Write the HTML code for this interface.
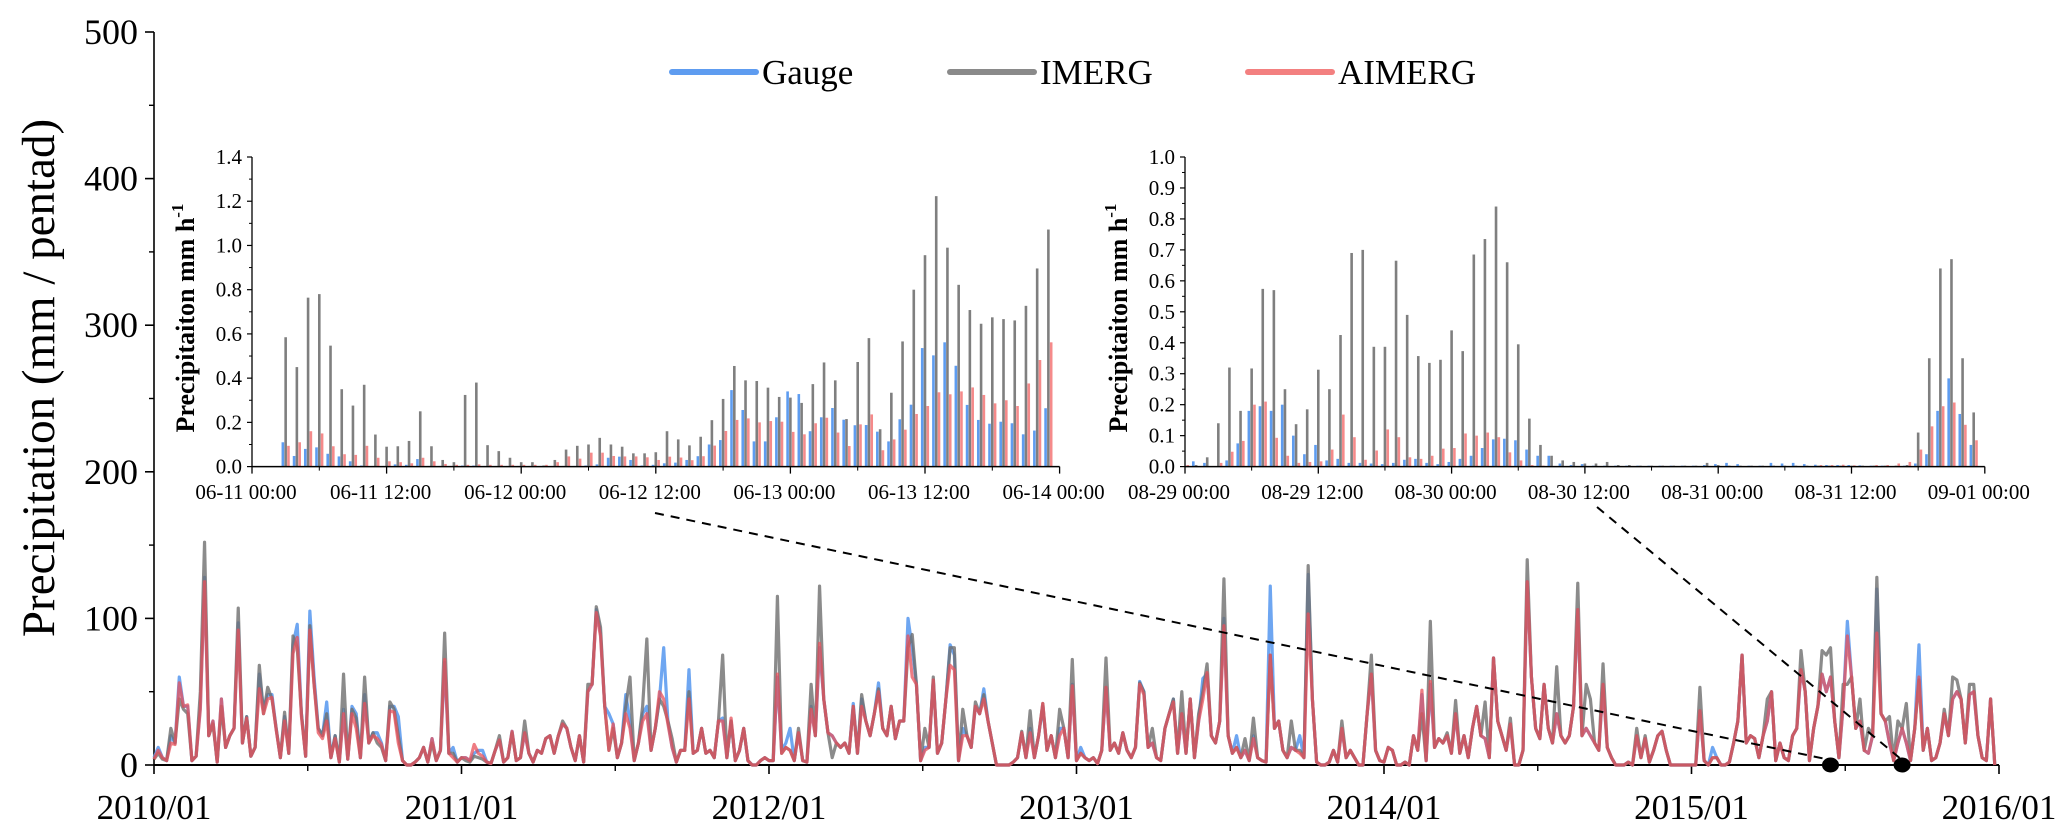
<!DOCTYPE html>
<html><head><meta charset="utf-8"><style>
html,body{margin:0;padding:0;background:#fff;}
svg{display:block;font-family:"Liberation Serif",serif;}
</style></head><body>
<svg id="chart" width="2067" height="839" viewBox="0 0 2067 839" xmlns="http://www.w3.org/2000/svg">
<g id="main"></g>
<g id="inset1"></g>
<g id="inset2"></g>
<g id="legend"></g>
</svg>
<script>
// ---------- main chart data (pentad, 2010-2015) ----------
const yearLabels = ["2010/01","2011/01","2012/01","2013/01","2014/01","2015/01","2016/01"];
const yTicks = [0,100,200,300,400,500];
const gauge = [
5,12,5,3,20,15,60,40,40,3, 6,40,128,20,30,2,45,12,20,25, 97,15,33,6,12,62,38,48,48,25, 5,33,8,82,96,35,6,105,60,25,
20,43,5,20,2,38,4,40,35,5, 48,15,22,22,15,3,40,40,33,3, 0,0,2,5,12,2,18,3,10,70, 8,12,2,5,5,3,8,10,10,2,
1,10,17,2,5,23,3,5,22,8, 2,10,8,18,20,8,20,28,25,12, 3,20,2,50,55,106,90,40,35,28, 5,15,48,30,3,15,35,40,10,25,
45,80,30,12,2,10,10,65,8,10, 25,8,10,5,30,32,5,30,3,10, 25,3,0,0,3,5,3,3,60,10, 15,25,3,22,3,2,40,20,80,45,
22,20,15,12,15,8,42,8,45,30, 20,35,56,25,20,40,18,30,30,100, 80,55,3,12,12,58,8,15,45,82, 75,3,25,20,12,40,35,52,30,15,
0,0,0,0,2,5,22,5,25,5, 20,40,10,20,5,25,25,5,55,3, 12,5,3,5,1,10,53,10,15,8, 22,10,5,12,57,50,12,15,5,3,
25,35,45,8,35,8,45,5,30,59, 62,20,15,30,100,20,8,20,5,10, 3,20,5,3,2,122,25,30,10,5, 12,10,20,5,130,45,2,0,0,2,
10,2,25,5,10,5,0,0,35,62, 10,3,2,12,10,0,0,2,0,20, 10,48,3,55,12,18,15,20,8,35, 8,20,5,25,40,20,18,5,73,30,
20,10,28,0,0,10,125,60,25,18, 55,25,15,35,20,15,20,40,106,20, 25,20,15,10,55,12,5,0,0,0, 2,0,20,5,18,2,10,20,23,10,
0,0,0,0,0,0,0,37,3,0, 12,5,0,0,2,15,30,75,15,20, 18,5,20,30,50,3,15,5,3,20, 25,65,50,3,25,40,62,50,60,30,
5,40,98,60,25,30,10,8,20,120, 35,30,15,3,15,25,15,3,25,82, 10,25,3,5,15,35,20,45,50,45, 15,48,50,20,5,3,45,0];
const imerg = [
4,8,4,3,25,15,45,38,35,3, 6,50,152,20,28,2,40,12,20,25, 107,15,33,6,12,68,35,53,45,25, 5,36,8,88,80,35,6,95,55,25,
20,35,5,20,2,62,4,38,32,5, 60,15,22,15,12,3,43,38,20,3, 0,0,2,5,12,2,15,3,10,90, 8,8,2,5,3,2,6,5,4,2,
1,10,20,2,5,22,3,5,30,8, 2,10,8,18,20,8,20,30,25,12, 3,20,2,55,55,108,94,40,10,25, 5,15,40,60,3,15,40,86,10,25,
45,40,30,18,2,10,10,50,8,10, 25,8,10,5,30,75,5,30,3,10, 25,3,0,0,3,5,3,3,115,8, 12,10,3,25,3,2,55,20,122,45,
22,5,15,12,15,8,40,8,48,30, 20,35,52,25,20,40,18,30,30,80, 89,55,3,25,12,60,8,15,45,80, 80,3,38,20,12,43,35,48,30,15,
0,0,0,0,2,5,23,5,37,5, 20,42,10,20,5,38,25,5,72,3, 8,5,3,5,1,10,73,10,15,8, 22,10,5,12,56,50,12,25,5,3,
25,35,45,8,50,8,45,5,35,50, 69,20,15,30,127,20,8,12,5,18, 3,32,5,3,2,75,25,30,10,5, 30,10,10,5,136,45,2,0,0,2,
10,2,30,5,10,5,0,0,35,75, 10,3,2,12,10,0,0,2,0,20, 10,35,3,98,12,18,15,22,8,44, 8,20,5,25,40,20,43,5,73,30,
20,10,32,0,0,10,140,60,25,18, 55,25,15,67,20,15,20,40,124,20, 55,45,15,10,69,12,5,0,0,0, 2,0,25,5,20,2,10,20,23,10,
0,0,0,0,0,0,0,53,3,0, 5,5,0,0,2,15,30,75,15,20, 18,5,20,45,50,3,15,5,3,20, 25,78,50,3,25,40,78,75,80,30,
5,55,55,60,25,45,10,25,20,128, 35,30,33,3,30,25,42,3,25,58, 10,25,3,5,15,38,20,60,58,45, 15,55,55,20,5,3,45,0];
const aimerg = [
4,10,5,3,15,14,56,40,41,3, 6,38,125,20,30,2,45,12,20,25, 92,15,32,6,12,52,35,45,46,24, 5,30,8,76,87,33,6,92,55,22,
18,30,5,18,2,35,4,35,25,5, 42,15,20,18,14,3,37,36,15,3, 0,0,2,5,12,2,18,3,10,72, 8,5,2,5,5,3,14,8,6,2,
1,10,17,2,5,23,3,5,22,8, 2,10,8,18,20,8,20,28,25,12, 3,20,2,50,55,104,88,40,10,28, 5,15,35,25,3,15,30,35,10,25,
50,45,28,12,2,10,10,45,8,10, 25,8,10,5,30,30,5,32,3,10, 25,3,0,0,3,5,3,3,62,8, 12,10,3,22,3,2,38,20,83,45,
22,20,15,12,15,8,40,8,40,30, 20,35,50,25,20,40,18,30,30,88, 60,55,3,10,12,58,8,15,45,68, 65,3,20,20,12,40,35,45,30,15,
0,0,0,0,2,5,22,5,22,5, 20,42,10,20,5,20,25,5,54,3, 8,5,3,5,1,10,53,10,15,8, 22,10,5,12,55,48,12,15,5,3,
25,35,43,8,35,8,45,5,30,45, 63,20,15,30,95,20,8,12,5,10, 3,18,5,3,2,75,25,30,10,5, 12,10,8,5,103,45,2,0,0,2,
10,2,25,5,10,5,0,0,35,62, 10,3,2,12,10,0,0,2,0,20, 10,51,3,57,12,18,15,20,8,35, 8,20,5,25,40,20,18,5,73,30,
20,10,28,0,0,10,125,60,25,18, 55,25,15,35,20,15,20,40,106,20, 25,20,15,10,55,12,5,0,0,0, 2,0,20,5,18,2,10,20,23,10,
0,0,0,0,0,0,0,37,3,0, 5,5,0,0,2,15,30,75,15,20, 18,5,20,30,50,3,15,5,3,20, 25,65,50,3,25,40,62,50,60,30,
5,40,88,60,25,30,10,8,20,90, 35,30,15,3,15,25,15,3,25,60, 10,25,3,5,15,35,20,45,50,45, 15,48,50,20,5,3,45,0];
const markerPentads = [398, 415];

// ---------- inset 1 (06-11 to 06-14, hourly) ----------
const inset1Labels = ["06-11 00:00","06-11 12:00","06-12 00:00","06-12 12:00","06-13 00:00","06-13 12:00","06-14 00:00"];
const inset1Ticks = [0,0.2,0.4,0.6,0.8,1.0,1.2,1.4];
const in1Gauge = [0,0,0,.11,.048,.08,.087,.058,.046,.024,.005,.003,.003,.01,.008,.034,.003,.003,.003,.005,.005,.003,.003,.003,.003,.003,.003,.003,.003,.003,.005,.01,.04,.045,.03,.005,.008,.015,.018,.03,.047,.1,.12,.346,.256,.114,.114,.223,.34,.328,.16,.223,.265,.212,.187,.188,.158,.114,.214,.28,.536,.503,.562,.456,.279,.211,.194,.203,.196,.146,.163,.264];
const in1Imerg = [0,0,0,.585,.45,.764,.78,.547,.35,.276,.37,.145,.09,.092,.116,.25,.092,.03,.02,.324,.38,.097,.07,.04,.02,.02,.005,.03,.077,.094,.1,.13,.1,.09,.06,.06,.065,.16,.123,.096,.135,.21,.306,.455,.39,.387,.357,.315,.312,.288,.373,.471,.39,.215,.473,.581,.169,.334,.566,.8,.956,1.223,.99,.822,.708,.646,.675,.667,.661,.727,.896,1.072];
const in1Aimerg = [0,0,0,.094,.11,.16,.15,.092,.056,.053,.094,.04,.024,.02,.015,.04,.024,.012,.008,.008,.01,.008,.008,.008,.008,.008,.008,.02,.046,.036,.063,.063,.048,.046,.046,.042,.03,.045,.041,.029,.047,.095,.161,.211,.218,.2,.206,.203,.157,.146,.196,.221,.154,.093,.191,.236,.074,.123,.167,.238,.274,.336,.327,.34,.358,.324,.286,.3,.274,.376,.482,.562];

// ---------- inset 2 (08-29 to 09-01, hourly) ----------
const inset2Labels = ["08-29 00:00","08-29 12:00","08-30 00:00","08-30 12:00","08-31 00:00","08-31 12:00","09-01 00:00"];
const inset2Ticks = [0,0.1,0.2,0.3,0.4,0.5,0.6,0.7,0.8,0.9,1.0];
const in2Gauge = [0,.017,.012,0,.02,.075,.18,.195,.18,.2,.1,.04,.07,.02,.025,.012,.012,.01,.008,.012,.022,.025,.012,.008,.015,.025,.035,.06,.088,.09,.085,.055,.035,.035,.01,.005,.008,.003,.003,.003,.003,.003,.003,.003,.003,.003,.003,.005,.008,.012,.008,.003,.003,.012,.01,.012,.008,.006,.005,.005,.005,.004,.003,.003,.002,.003,.01,.04,.18,.285,.17,.07];
const in2Imerg = [0,.005,.03,.14,.32,.18,.317,.574,.57,.25,.137,.185,.313,.25,.425,.69,.7,.387,.387,.665,.49,.357,.335,.345,.44,.373,.685,.735,.84,.66,.395,.155,.07,.035,.02,.015,.01,.01,.015,.005,.005,.003,.003,.003,.003,.003,.003,.012,.005,.003,.003,.003,.003,.003,.003,.003,.003,.003,.003,.003,.003,.003,.003,.003,.003,.005,.11,.35,.64,.67,.35,.175];
const in2Aimerg = [.005,0,0,.012,.048,.083,.2,.21,.093,.035,.012,.015,.017,.055,.168,.095,.022,.052,.12,.095,.03,.025,.035,.058,.06,.107,.1,.11,.095,.046,.02,.005,.003,.002,.002,.002,.002,.002,.002,.002,.002,.002,.002,.002,.002,.002,.002,.002,.002,.002,.002,.002,.002,.002,.002,.002,.002,.005,.005,.006,.004,.002,.005,.005,.01,.015,.055,.13,.195,.207,.135,.085];

const NS = "http://www.w3.org/2000/svg";
function mk(tag, attrs, parent){ const e=document.createElementNS(NS,tag); for(const k in attrs) e.setAttribute(k, attrs[k]); parent.appendChild(e); return e; }

const C_BLUE="#5e9cf0", C_GRAY="#7a7a7a", C_RED="#f06a70";

// ---------- main axes ----------
const main = document.getElementById("main");
const X0=154, YEARW=307.5, Y0=765, YPER=1.466;
function xM(i){ return X0 + (i/73)*YEARW; }
function xYear(k){ return X0 + k*YEARW; }
function yM(v){ return Y0 - v*YPER; }

let yAxis = mk("line",{x1:X0,y1:yM(500),x2:X0,y2:Y0,stroke:"#000","stroke-width":1.6},main);


let xAxis = mk("line",{x1:X0,y1:Y0,x2:xYear(6),y2:Y0,stroke:"#000","stroke-width":2},main);


yTicks.forEach(v=>{
  let t = mk("line",{x1:X0-9,y1:yM(v),x2:X0,y2:yM(v),stroke:"#000","stroke-width":1.6},main);
  
  
  if(v<500){ let m = mk("line",{x1:X0-5,y1:yM(v+50),x2:X0,y2:yM(v+50),stroke:"#000","stroke-width":1.4},main);
    
     }
  let l = mk("text",{x:X0-16,y:yM(v)+12,"text-anchor":"end","font-size":36,fill:"#000"},main);
  l.textContent = v;
  
  
});
yearLabels.forEach((s,k)=>{
  let t = mk("line",{x1:xYear(k),y1:Y0,x2:xYear(k),y2:Y0+9,stroke:"#000","stroke-width":1.6},main);
  
  
  if(k<6){ let m = mk("line",{x1:xYear(k+0.5),y1:Y0,x2:xYear(k+0.5),y2:Y0+6,stroke:"#000","stroke-width":1.4},main);
    
     }
  let l = mk("text",{x:xYear(k),y:819,"text-anchor":"middle","font-size":35,fill:"#000"},main);
  l.textContent = s;
  
  
});
let yt = mk("text",{x:0,y:0,"text-anchor":"middle","font-size":47,fill:"#000",transform:"translate(54,378) rotate(-90)"},main);
yt.textContent = "Precipitation (mm / pentad)";



function seriesPath(arr,color,name,op){
  let d = arr.map((v,i)=>(i?"L":"M")+xM(i).toFixed(2)+","+yM(v).toFixed(2)).join(" ");
  let p = mk("path",{d:d,fill:"none",stroke:color,"stroke-width":3.2,"stroke-linejoin":"round","stroke-opacity":op},main);
  
  
}
seriesPath(gauge,C_BLUE,"gauge-line",0.9);
seriesPath(imerg,"#6e6e6e","imerg-line",0.8);
seriesPath(aimerg,"#e8505a","aimerg-line",0.75);

// connectors and markers
const conn = [[655,513,markerPentads[0]],[1597,507,markerPentads[1]]];
conn.forEach(c=>{
  let l = mk("line",{x1:c[0],y1:c[1],x2:xM(c[2]),y2:Y0-5,stroke:"#000","stroke-width":2,"stroke-dasharray":"9,7"},main);
  
  
  let e = mk("ellipse",{cx:xM(c[2]),cy:Y0,rx:8.5,ry:7.5,fill:"#000"},main);
  
  
});

// ---------- insets ----------
function buildInset(gid, ax0, hourW, ymax, yTickArr, labels, gArr, iArr, aArr){
  const g = document.getElementById(gid);
  const YB = 466.6, YT = 157;
  const yS = v => YB - v*(YB-YT)/ymax;
  const xS = h => ax0 + h*hourW;
  gArr.forEach((v,h)=>{
    let b = mk("rect",{x:xS(h)-4.1,y:yS(v),width:2.6,height:YB-yS(v),fill:C_BLUE},g);
    
    
  });
  iArr.forEach((v,h)=>{
    let b = mk("rect",{x:xS(h)-1.3,y:yS(v),width:2.6,height:YB-yS(v),fill:"#7f7f7f"},g);
    
    
  });
  aArr.forEach((v,h)=>{
    let b = mk("rect",{x:xS(h)+1.5,y:yS(v),width:2.6,height:YB-yS(v),fill:"#f58a8a"},g);
    
    
  });
  let ya = mk("line",{x1:ax0,y1:YT,x2:ax0,y2:YB,stroke:"#000","stroke-width":1.3},g);
  
  
  let xa = mk("line",{x1:ax0,y1:YB,x2:xS(72),y2:YB,stroke:"#000","stroke-width":1.5},g);
  
  
  yTickArr.forEach((v,k)=>{
    let t = mk("line",{x1:ax0-5,y1:yS(v),x2:ax0,y2:yS(v),stroke:"#000","stroke-width":1.2},g);
    
    
    if(k<yTickArr.length-1){ let mm = mk("line",{x1:ax0-3,y1:(yS(v)+yS(yTickArr[k+1]))/2,x2:ax0,y2:(yS(v)+yS(yTickArr[k+1]))/2,stroke:"#000","stroke-width":1},g);
      
       }
    let l = mk("text",{x:ax0-10,y:yS(v)+7,"text-anchor":"end","font-size":21,fill:"#000"},g);
    l.textContent = v.toFixed(1);
    
    
  });
  labels.forEach((s,k)=>{
    let t = mk("line",{x1:xS(k*12),y1:YB,x2:xS(k*12),y2:YB+7,stroke:"#000","stroke-width":1.3},g);
    
    
    if(k<labels.length-1){ let mm = mk("line",{x1:xS(k*12+6),y1:YB,x2:xS(k*12+6),y2:YB+4,stroke:"#000","stroke-width":1},g);
      
       }
    let l = mk("text",{x:xS(k*12)-6,y:499,"text-anchor":"middle","font-size":21,fill:"#000"},g);
    l.textContent = s;
    
    
  });
  let tt = mk("text",{x:0,y:0,"text-anchor":"middle","font-size":26,"font-weight":"bold",fill:"#000",transform:"translate("+(ax0-58)+",318) rotate(-90)"},g);
  
  
  tt.appendChild(document.createTextNode("Precipitaiton mm h"));
  let sup = mk("tspan",{dy:-11,"font-size":17},tt);
  sup.textContent = "-1";
}
buildInset("inset1",252,134.6/12,1.4,inset1Ticks,inset1Labels,in1Gauge,in1Imerg,in1Aimerg);
buildInset("inset2",1185,133.3/12,1.0,inset2Ticks,inset2Labels,in2Gauge,in2Imerg,in2Aimerg);

// ---------- legend ----------
const lg = document.getElementById("legend");
const legendNames = ["Gauge","IMERG","AIMERG"];
const legendColors = [C_BLUE,"#8a8a8a","#f38080"];
const legendX = [672,950,1248];
legendNames.forEach((n,k)=>{
  let ln = mk("line",{x1:legendX[k],y1:72,x2:legendX[k]+84,y2:72,stroke:legendColors[k],"stroke-width":6,"stroke-linecap":"round"},lg);
  
  
  let t = mk("text",{x:legendX[k]+90,y:84,"font-size":35,fill:"#000"},lg);
  t.textContent = n;
  
  
});
</script>
</body></html>
